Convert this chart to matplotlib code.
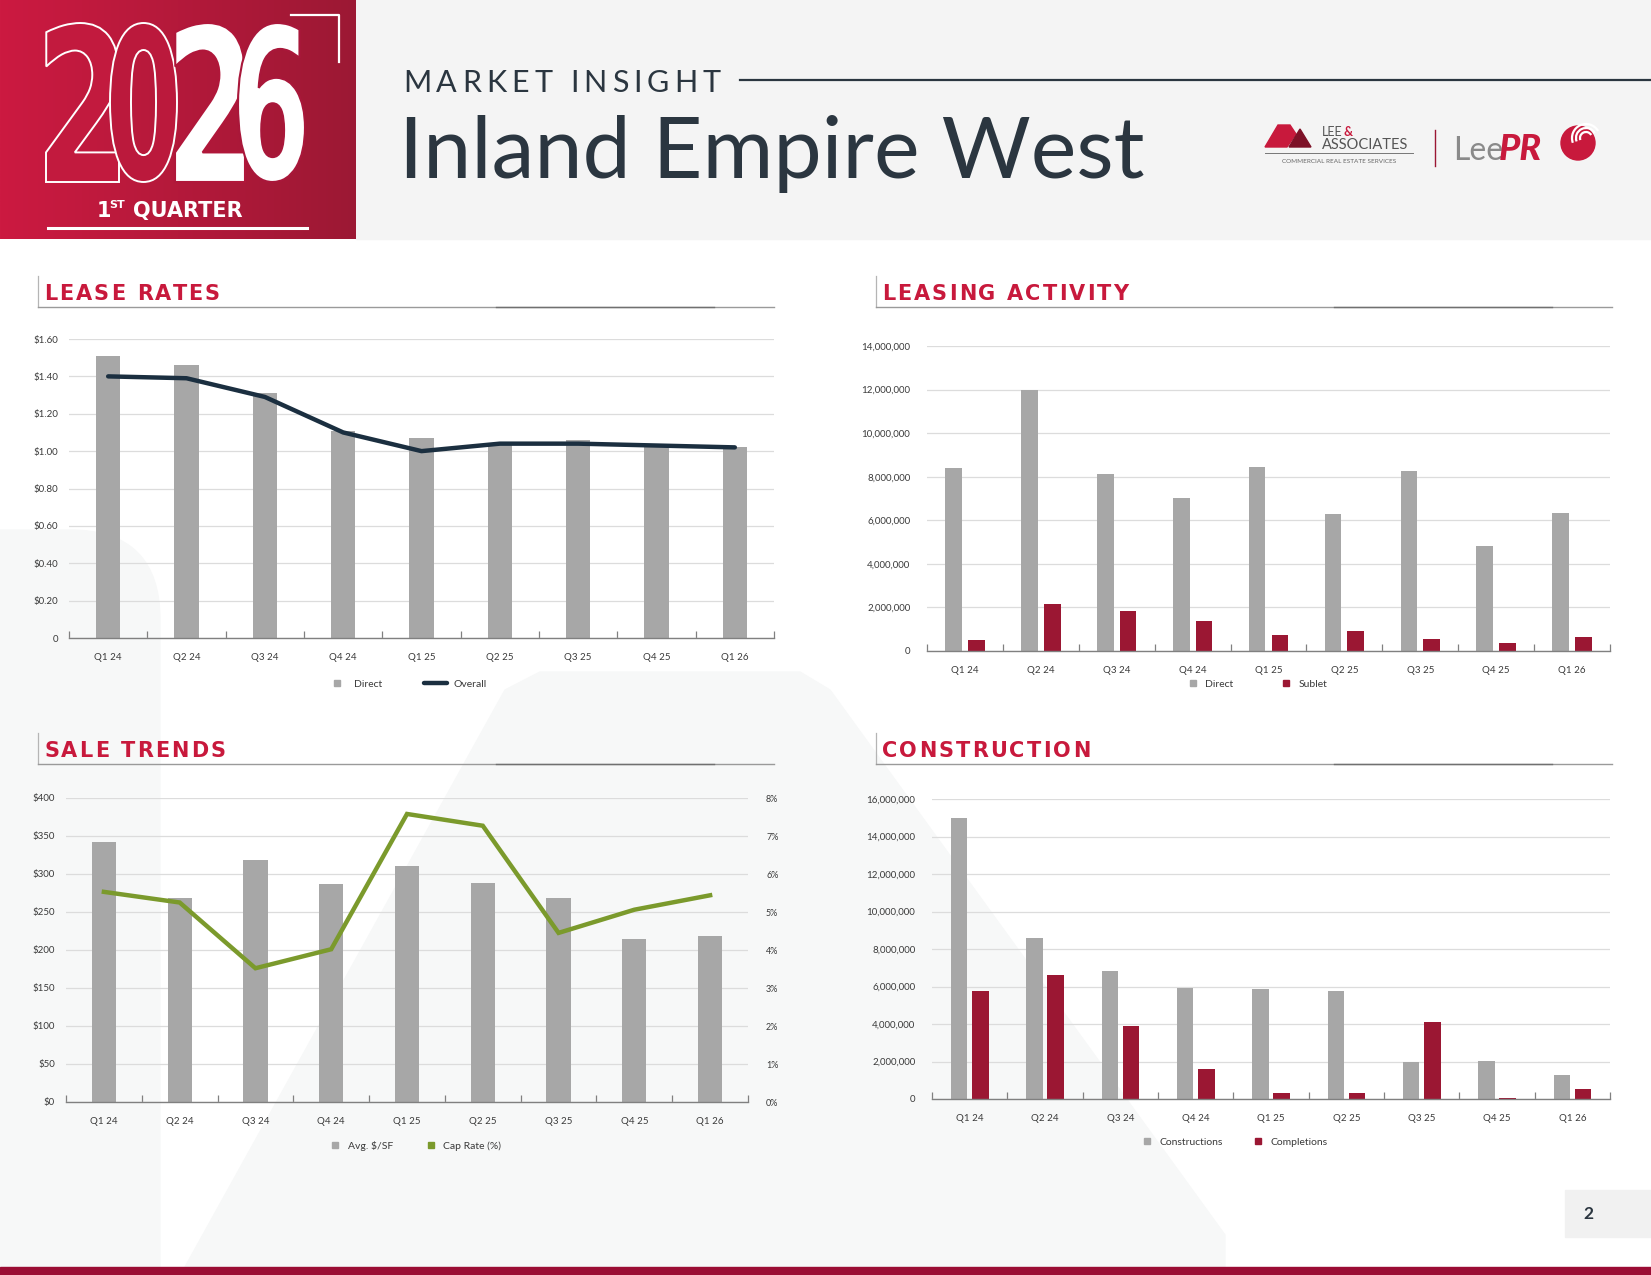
import numpy as np
import matplotlib
matplotlib.use("Agg")
import matplotlib.pyplot as plt
from matplotlib.colors import LinearSegmentedColormap
from matplotlib.font_manager import FontProperties
from matplotlib.lines import Line2D
from matplotlib.patches import PathPatch, Polygon, Rectangle, FancyBboxPatch, Circle, Arc
from matplotlib.textpath import TextPath, TextToPath
from matplotlib.transforms import Affine2D

# ---- data ----
quarters = ["Q1 24", "Q2 24", "Q3 24", "Q4 24", "Q1 25", "Q2 25", "Q3 25", "Q4 25", "Q1 26"]

lease_direct = [1.51, 1.46, 1.31, 1.11, 1.07, 1.04, 1.06, 1.03, 1.02]
lease_overall = [1.40, 1.39, 1.29, 1.10, 1.00, 1.04, 1.04, 1.03, 1.02]

leasing_direct = [8380000, 12000000, 8120000, 7030000, 8450000, 6280000, 8250000, 4820000, 6340000]
leasing_sublet = [490000, 2150000, 1850000, 1370000, 740000, 920000, 570000, 350000, 650000]

sale_price_sf = [342, 268, 318, 287, 311, 288, 268, 214, 218]
sale_cap_rate = [5.53, 5.25, 3.52, 4.02, 7.58, 7.27, 4.45, 5.06, 5.44]

constr_underway = [15000000, 8600000, 6830000, 5900000, 5870000, 5780000, 1980000, 2020000, 1280000]
constr_completed = [5740000, 6620000, 3920000, 1580000, 320000, 320000, 4090000, 30000, 560000]

# ---- style ----
W, H = 1651, 1275
RED = "#c8193c"
DARK_RED = "#9b1733"
GRAY_BAR = "#a7a7a7"
NAVY = "#1b2f40"
GREEN = "#7b9a2c"
GRID = "#dcdcdc"
TXT = "#3a3a3a"
FONT = "Lato"

plt.rcParams["font.family"] = [FONT, "DejaVu Sans"]

fig = plt.figure(figsize=(W / 100, H / 100), dpi=100)
fig.patch.set_facecolor("white")

bg = fig.add_axes([0, 0, 1, 1])
bg.set_xlim(0, W)
bg.set_ylim(H, 0)
bg.axis("off")


def rect(x0, y0, x1, y1):
    return [x0 / W, 1 - y1 / H, (x1 - x0) / W, (y1 - y0) / H]


ttp = TextToPath()


def spaced(x, y, s, size, track, color, family=FONT, weight="normal", va="baseline"):
    prop = FontProperties(family=family, weight=weight, size=size)
    for i, ch in enumerate(s):
        off = ttp.get_text_width_height_descent(s[:i], prop, ismath=False)[0] * 100 / 72 if i else 0
        bg.text(x + off + i * track, y, ch, fontproperties=prop, color=color, va=va, ha="left")


def fit_glyphs(s, x0, x1, y0, y1, **kw):
    tp = TextPath((0, 0), s, size=100, prop=FontProperties(family="DejaVu Sans", weight="bold"))
    ext = tp.get_extents()
    tr = Affine2D().translate(-ext.x0, -ext.y0).scale((x1 - x0) / ext.width, -(y1 - y0) / ext.height).translate(x0, y1)
    bg.add_patch(PathPatch(tr.transform_path(tp), **kw))


# ---- background shapes ----
bg.add_patch(Rectangle((356, 0), W - 356, 239, color="#f4f4f4", zorder=0))
bg.add_patch(FancyBboxPatch((-100, 530), 260, 900, boxstyle="round,pad=0,rounding_size=90",
                            color="#f7f8f8", zorder=0))
bg.add_patch(Polygon([(185, 1267), (505, 690), (540, 672), (800, 672), (830, 690), (1225, 1235), (1225, 1267)],
                     closed=True, color="#f7f8f8", zorder=0))

# ---- header red block ----
grad = np.linspace(0, 1, 256).reshape(1, -1)
cmap = LinearSegmentedColormap.from_list("hdr", ["#cc1a41", "#9c1834"])
bg.imshow(grad, extent=(0, 356, 239, 0), cmap=cmap, aspect="auto", zorder=1)
bg.set_xlim(0, W)
bg.set_ylim(H, 0)

fit_glyphs("2", 46, 119, 23, 182, facecolor="#c21a3e", edgecolor="white", lw=1.4, zorder=2)
fit_glyphs("0", 110, 177, 23, 182, facecolor="#bb193c", edgecolor="white", lw=1.4, zorder=3)
fit_glyphs("2", 175, 245, 23, 182, facecolor="white", edgecolor="#b0173a", lw=1.5, zorder=4)
fit_glyphs("6", 238, 305, 23, 182, facecolor="white", edgecolor="#a9173a", lw=1.5, zorder=5)

bg.plot([291, 339, 339], [15, 15, 62], color="white", lw=1.6, zorder=5)
bg.plot([48, 307], [228, 228], color="white", lw=2.2, zorder=5)
hdr_font = dict(family="DejaVu Sans", fontweight="bold", color="white", va="baseline", zorder=6)
bg.text(97, 217, "1", fontsize=15, **hdr_font)
bg.text(109, 208, "ST", fontsize=8, **hdr_font)
bg.text(133, 217, "QUARTER", fontsize=15, **hdr_font)

# ---- title ----
spaced(403, 92, "MARKET INSIGHT", 22, 5.0, "#2b3640", weight="normal")
bg.plot([740, W], [80, 80], color="#2b3640", lw=1.6)
bg.text(399, 178, "Inland Empire West", fontsize=62, color="#2b3640", va="baseline")

# ---- logos ----
bg.add_patch(Polygon([(1265, 147), (1278, 125), (1290, 125), (1296, 134), (1287, 147)], color=RED, zorder=2))
bg.add_patch(Polygon([(1289, 147), (1300, 129), (1311, 147)], color="#7d1127", zorder=2))
bg.text(1322, 136, "LEE", fontsize=9, color="#555", va="baseline")
bg.text(1344, 136, "&", fontsize=9, color=RED, fontweight="bold", va="baseline")
bg.text(1322, 149, "ASSOCIATES", fontsize=10.5, color="#555", va="baseline")
bg.plot([1265, 1413], [153, 153], color="#777", lw=0.7)
bg.text(1339, 163, "COMMERCIAL REAL ESTATE SERVICES", fontsize=4.6, color="#666", ha="center", va="baseline")
bg.plot([1435, 1435], [130, 166], color=DARK_RED, lw=1.0)
bg.text(1453, 160, "Lee", fontsize=23, color="#8a8a8a", va="baseline")
bg.text(1499, 160, "PR", fontsize=26, color=RED, fontweight="black", fontstyle="italic", va="baseline")
bg.add_patch(Circle((1578, 143), 17, color=RED, zorder=2))
for r in (6, 10, 14):
    bg.add_patch(Arc((1586, 138), 2 * r, 2 * r, angle=0, theta1=160, theta2=330, color="white", lw=1.6, zorder=3))

# ---- section headers ----
for x0, x1, y0, label in [(38, 774, 276, "LEASE RATES"), (876, 1612, 276, "LEASING ACTIVITY"),
                          (38, 774, 733, "SALE TRENDS"), (876, 1612, 733, "CONSTRUCTION")]:
    bg.plot([x0, x0], [y0, y0 + 31], color="#b5b5b5", lw=0.9)
    bg.plot([x0, x1], [y0 + 31, y0 + 31], color="#9a9a9a", lw=1.0)
    bg.plot([x0 + 458, x0 + 676], [y0 + 31, y0 + 31], color="#707070", lw=1.0)
    spaced(x0 + 6, y0 + 24, label, 15, 2.1, RED, family="DejaVu Sans", weight="bold")

# ---- page number + bottom strip ----
bg.add_patch(Rectangle((1565, 1190), 86, 47, color="#f1f1f1", zorder=1))
bg.text(1588, 1214, "2", fontsize=12.5, fontweight="bold", color="#2b3640", ha="center", va="center", zorder=2)
bg.add_patch(Rectangle((0, 1267), W, 8, color="#9b0d34", zorder=1))

x = np.arange(len(quarters))


def style_axis(ax, yticks, ylabels, ypad=6):
    ax.set_facecolor("none")
    ax.set_xlim(-0.5, len(quarters) - 0.5)
    ax.set_yticks(yticks)
    ax.set_yticklabels(ylabels)
    ax.set_ylim(yticks[0], yticks[-1])
    ax.set_xticks(x)
    ax.set_xticklabels(quarters)
    ax.set_xticks(np.arange(-0.5, len(quarters)), minor=True)
    ax.tick_params(axis="x", which="major", length=0, pad=11, labelsize=7, labelcolor=TXT)
    ax.tick_params(axis="x", which="minor", direction="in", length=5, width=0.9, color="#808080")
    ax.tick_params(axis="y", length=0, pad=ypad, labelsize=7, labelcolor=TXT)
    for side in ("top", "right", "left"):
        ax.spines[side].set_visible(False)
    ax.spines["bottom"].set_color("#808080")
    ax.spines["bottom"].set_linewidth(1.0)
    ax.yaxis.grid(True, color=GRID, lw=0.9)
    ax.set_axisbelow(True)


def place_legend(ax, handles, labels, cx, cy, spacing=3.5, hlen=1.2):
    ax.legend(handles, labels, loc="center", bbox_to_anchor=(cx / W, 1 - cy / H), bbox_transform=fig.transFigure,
              ncol=len(handles), frameon=False, fontsize=7.5, handlelength=hlen, handletextpad=0.6,
              columnspacing=spacing, labelcolor=TXT)


def square(color):
    return Line2D([], [], marker="s", ls="none", markersize=4.5, color=color)


# ---- Lease Rates ----
ax1 = fig.add_axes(rect(69, 339, 774, 638))
ax1.bar(x, lease_direct, width=0.31, color=GRAY_BAR, zorder=2)
ax1.plot(x, lease_overall, color=NAVY, lw=3.2, solid_capstyle="round", solid_joinstyle="round", zorder=3)
lr_ticks = np.round(np.arange(0, 1.61, 0.2), 2)
style_axis(ax1, lr_ticks, ["0"] + [f"${v:.2f}" for v in lr_ticks[1:]], ypad=8)
place_legend(ax1, [square(GRAY_BAR), Line2D([], [], color=NAVY, lw=3.2, solid_capstyle="round")],
             ["Direct", "Overall"], 406, 684, spacing=4.0, hlen=2.2)

# ---- Leasing Activity ----
ax2 = fig.add_axes(rect(927, 346, 1610, 651))
ax2.bar(x - 0.15, leasing_direct, width=0.22, color=GRAY_BAR, zorder=2)
ax2.bar(x + 0.15, leasing_sublet, width=0.22, color=DARK_RED, zorder=2)
la_ticks = np.arange(0, 14000001, 2000000)
style_axis(ax2, la_ticks, ["0"] + [f"{v:,}" for v in la_ticks[1:]], ypad=12)
place_legend(ax2, [square(GRAY_BAR), square(DARK_RED)], ["Direct", "Sublet"], 1257, 684, spacing=4.5)

# ---- Sale Trends ----
ax3 = fig.add_axes(rect(66, 798, 748, 1102))
ax3.bar(x, sale_price_sf, width=0.32, color=GRAY_BAR, zorder=2)
st_ticks = np.arange(0, 401, 50)
style_axis(ax3, st_ticks, [f"${v}" for v in st_ticks], ypad=8)
ax3b = ax3.twinx()
ax3b.plot(x, sale_cap_rate, color=GREEN, lw=3.2, solid_joinstyle="miter", zorder=3)
ax3b.set_ylim(0, 8)
ax3b.set_yticks(np.arange(0, 9))
ax3b.set_yticklabels([f"{v}%" for v in range(9)])
ax3b.tick_params(axis="y", length=0, pad=13, labelsize=6.5, labelcolor=TXT)
for side in ("top", "right", "left", "bottom"):
    ax3b.spines[side].set_visible(False)
place_legend(ax3, [square(GRAY_BAR), square(GREEN)], ["Avg. $/SF", "Cap Rate (%)"], 415, 1146, spacing=3.0)

# ---- Construction ----
ax4 = fig.add_axes(rect(932, 799, 1610, 1099))
ax4.bar(x - 0.14, constr_underway, width=0.22, color=GRAY_BAR, zorder=2)
ax4.bar(x + 0.14, constr_completed, width=0.22, color=DARK_RED, zorder=2)
c_ticks = np.arange(0, 16000001, 2000000)
style_axis(ax4, c_ticks, ["0"] + [f"{v:,}" for v in c_ticks[1:]], ypad=12)
place_legend(ax4, [square(GRAY_BAR), square(DARK_RED)], ["Constructions", "Completions"], 1234, 1142, spacing=2.8)

fig.savefig("out.png", dpi=100)
